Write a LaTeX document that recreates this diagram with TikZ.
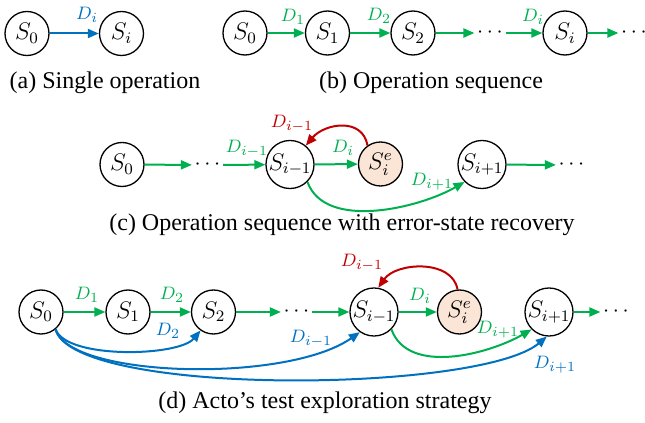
\documentclass[tikz,border=0pt]{standalone}
\usepackage{fontspec}
\setmainfont{Liberation Serif}
\usetikzlibrary{arrows.meta}
\definecolor{cgreen}{RGB}{0,176,80}
\definecolor{cblue}{RGB}{0,112,192}
\definecolor{cred}{RGB}{192,0,0}
\definecolor{cpeach}{RGB}{251,229,214}
\begin{document}
\begin{tikzpicture}[x=0.5pt,y=-0.5pt,
  st/.style={circle,draw=black,line width=0.65pt,minimum size=22pt,inner sep=0pt,font=\fontsize{11.5}{13}\selectfont},
  est/.style={st,fill=cpeach},
  dotn/.style={inner sep=1.2pt,font=\fontsize{11}{13}\selectfont},
  arr/.style={line width=1pt,-{Triangle[length=5.5pt,width=4.5pt]}},
  ga/.style={arr,draw=cgreen},
  ba/.style={arr,draw=cblue},
  ra/.style={arr,draw=cred},
  lab/.style={inner sep=0pt,font=\fontsize{9.5}{11}\selectfont},
  captxt/.style={inner sep=0pt,font=\fontsize{12}{14}\selectfont}]
\useasboundingbox (0,0) rectangle (645,423);

% (a)
\node[st] (a0) at (27,33.5) {$S_0$};
\node[st] (ai) at (121.5,33.5) {$S_i$};
\draw[ba] (a0) -- (ai);
\node[lab,text=cblue] (la) at (87,15) {$D_i$};
\node[captxt] (capa) at (105,83) {(a) Single operation};

% (b)
\node[st] (b0) at (245,33) {$S_0$};
\node[st] (b1) at (327.5,33) {$S_1$};
\node[st] (b2) at (413,33) {$S_2$};
\node[dotn] (bd1) at (490,33) {$\cdots$};
\node[st] (bi) at (565,33) {$S_i$};
\node[dotn] (bd2) at (634,33) {$\cdots$};
\draw[ga] (b0) -- (b1);
\draw[ga] (b1) -- (b2);
\draw[ga] (b2) -- (bd1);
\draw[ga] (bd1) -- (bi);
\draw[ga] (bi) -- (bd2);
\node[lab,text=cgreen] (lb1) at (293,17) {$D_1$};
\node[lab,text=cgreen] (lb2) at (379,16) {$D_2$};
\node[lab,text=cgreen] (lbi) at (533,17) {$D_i$};
\node[captxt] (capb) at (431,83) {(b) Operation sequence};

% (c)
\node[st] (c0) at (122,164.5) {$S_0$};
\node[dotn] (cd1) at (207.5,165) {$\cdots$};
\node[st] (cim1) at (290,164.5) {$S_{i-1}$};
\node[est] (cie) at (380.5,164) {$S_i^e$};
\node[st] (cip1) at (482,164.5) {$S_{i+1}$};
\node[dotn] (cd2) at (571.5,165) {$\cdots$};
\draw[ga] (c0) -- (cd1);
\draw[ga] (cd1) -- (cim1);
\draw[ga] (cim1) -- (cie);
\draw[ra] (cie.125) to[out=100,in=50,looseness=1.2] (cim1.50);
\draw[ga] (cim1.-45) to[out=-70,in=-150,looseness=0.85] (cip1.-135);
\draw[ga] (cip1) -- (cd2);
\node[lab,text=cgreen] (lc1) at (247,149) {$D_{i-1}$};
\node[lab,text=cgreen] (lc2) at (343,148) {$D_i$};
\node[lab,text=cred] (lc3) at (292,124) {$D_{i-1}$};
\node[lab,text=cgreen] (lc4) at (432,182) {$D_{i+1}$};
\node[captxt] (capc) at (342,225) {(c) Operation sequence with error-state recovery};

% (d)
\node[st] (d0) at (41,312) {$S_0$};
\node[st] (d1) at (128,312) {$S_1$};
\node[st] (d2) at (213.5,312) {$S_2$};
\node[dotn] (dd1) at (296.5,312) {$\cdots$};
\node[st] (dim1) at (374,312) {$S_{i-1}$};
\node[est] (die) at (459.5,312) {$S_i^e$};
\node[st] (dip1) at (549,312) {$S_{i+1}$};
\node[dotn] (dd2) at (616,312) {$\cdots$};
\draw[ga] (d0) -- (d1);
\draw[ga] (d1) -- (d2);
\draw[ga] (d2) -- (dd1);
\draw[ga] (dd1) -- (dim1);
\draw[ga] (dim1) -- (die);
\draw[ga] (dip1) -- (dd2);
\draw[ra] (die.95) to[out=100,in=55] (dim1.80);
\draw[ga] (dim1.-45) to[out=-70,in=-150,looseness=0.9] (dip1.-135);
\draw[ba] (d0.-50) .. controls +(70:32) and +(130:34) .. (d2.-125);
\draw[ba] (d0.-50) .. controls +(75:50) and +(145:90) .. (dim1.-125);
\draw[ba] (d0.-50) .. controls +(75:70) and +(140:88) .. (dip1.-95);
\node[lab,text=cgreen] (ld1) at (87,295) {$D_1$};
\node[lab,text=cgreen] (ld2) at (172,295) {$D_2$};
\node[lab,text=cblue] (ld3) at (168,331) {$D_2$};
\node[lab,text=cblue] (ld4) at (311,339) {$D_{i-1}$};
\node[lab,text=cgreen] (ld5) at (420,296) {$D_i$};
\node[lab,text=cred] (ld6) at (362,263) {$D_{i-1}$};
\node[lab,text=cgreen] (ld7) at (498,330) {$D_{i+1}$};
\node[lab,text=cblue] (ld8) at (555,365) {$D_{i+1}$};
\node[captxt] (capd) at (325,403) {(d) Acto’s test exploration strategy};
\end{tikzpicture}
\end{document}
